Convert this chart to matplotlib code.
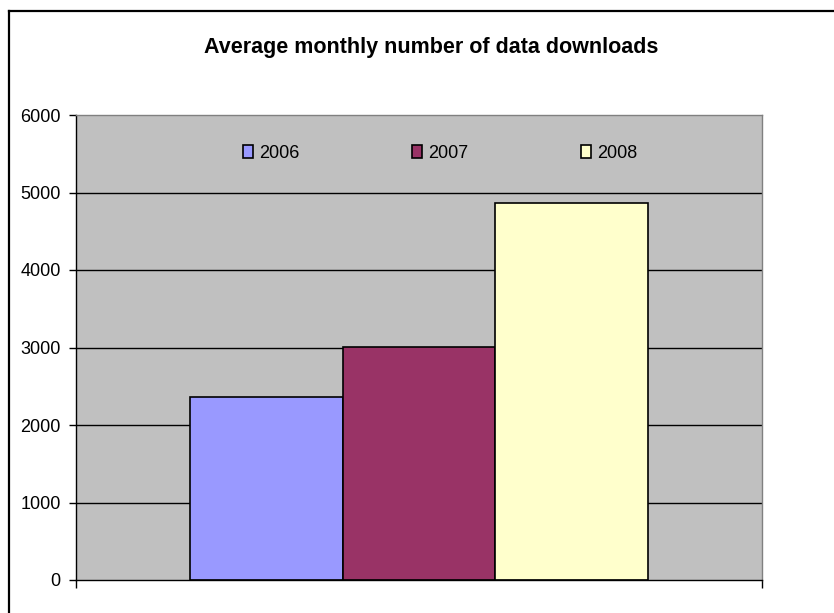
import matplotlib
matplotlib.use("Agg")
import matplotlib.pyplot as plt
from matplotlib.lines import Line2D

years = ["2006", "2007", "2008"]
downloads = [2365, 3010, 4865]
colors = ["#9999FF", "#993366", "#FFFFCC"]
y_ticks = [0, 1000, 2000, 3000, 4000, 5000, 6000]

plt.rcParams["font.family"] = ["Liberation Sans", "DejaVu Sans"]

W, H = 834, 613
fig = plt.figure(figsize=(W / 100, H / 100), dpi=100)
fig.patch.set_facecolor("white")

# chart area border (only left and top visible)
fig.add_artist(Line2D([8.5 / W, 8.5 / W], [0, 1 - 11 / H], color="black", lw=1.6))
fig.add_artist(Line2D([8.5 / W, 1], [1 - 11 / H, 1 - 11 / H], color="black", lw=1.6))

left, right, top, bottom = 76, 762, 115, 580
ax = fig.add_axes([left / W, 1 - bottom / H, (right - left) / W, (bottom - top) / H])
ax.set_facecolor("#C0C0C0")

bar_w = 1 / 4.5
for i, (yr, val, col) in enumerate(zip(years, downloads, colors)):
    ax.bar((i - 1) * bar_w, val, width=bar_w, color=col, edgecolor="black",
           linewidth=1.2, label=yr, zorder=3)

ax.set_xlim(-0.5, 0.5)
ax.set_ylim(0, 6000)
ax.set_yticks(y_ticks)
ax.set_yticklabels([str(t) for t in y_ticks], fontsize=13)
ax.set_xticks([-0.5, 0.5])
ax.set_xticklabels([])
ax.tick_params(axis="y", length=5, width=1, pad=6, direction="out")
ax.tick_params(axis="x", length=6, width=1, direction="out")

for t in y_ticks[1:-1]:
    ax.axhline(t, color="black", lw=1, zorder=1)

ax.spines["top"].set_color("#808080")
ax.spines["right"].set_color("#808080")
ax.spines["left"].set_color("black")
ax.spines["bottom"].set_color("black")
for s in ax.spines.values():
    s.set_linewidth(1)
    s.set_zorder(4)

leg = ax.legend(loc="center", bbox_to_anchor=(0.531, 0.918), ncol=3, frameon=False,
                fontsize=13, handlelength=0.55, handleheight=0.7, handletextpad=0.33,
                columnspacing=6.25, borderpad=0)

fig.text(431 / W, 1 - 47 / H, "Average monthly number of data downloads",
         ha="center", va="center", fontsize=15.5, fontweight="bold")

fig.savefig("out.png", dpi=100)
